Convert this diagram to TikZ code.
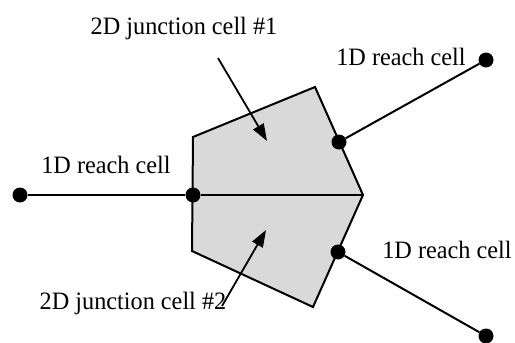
\documentclass[tikz,border=0pt]{standalone}
\usepackage{fontspec}
\setmainfont{Liberation Serif}
\usetikzlibrary{positioning, arrows.meta}
\tikzstyle{dot}=[circle, fill=black, inner sep=0pt, minimum size=15pt]
\tikzstyle{lbl}=[inner sep=0pt, xscale=0.97, font=\fontsize{25}{28}\selectfont]
\tikzstyle{edge}=[line width=2pt]
\tikzstyle{ar}=[-{Triangle[length=17pt, width=12pt]}, line width=1.8pt]

\begin{document}
\begin{tikzpicture}[x=1pt, y=-1pt]
    \useasboundingbox (0,0) rectangle (515,343);
    % junction corners
    \coordinate (lt) at (193,137);
    \coordinate (tp) at (315,87);
    \coordinate (rt) at (363,195);
    \coordinate (bt) at (313,307);
    \coordinate (lb) at (192,251);
    \fill[black!15] (lt)--(tp)--(rt)--(bt)--(lb)--cycle;
    \draw[edge] (lt)--(tp)--(rt)--(bt)--(lb)--cycle;
    % reach cells
    \node[dot] (w) at (20,195) {};
    \node[dot] (wj) at (193,195) {};
    \node[dot] (ne) at (486,60) {};
    \node[dot] (nej) at (339,142) {};
    \node[dot] (se) at (486,336) {};
    \node[dot] (sej) at (338,252) {};
    \draw[edge] (w)--(wj)--(rt);
    \draw[edge] (nej)--(ne);
    \draw[edge] (sej)--(se);
    % labels
    \node[lbl] (j1) at (184,28) {2D junction cell \#1};
    \node[lbl] (j2) at (133,303) {2D junction cell \#2};
    \node[lbl] (rw) at (106,165) {1D reach cell};
    \node[lbl] (rne) at (401,57) {1D reach cell};
    \node[lbl] (rse) at (447,250) {1D reach cell};
    \coordinate (a1) at (218,58);
    \coordinate (b1) at (267,141);
    \coordinate (a2) at (222,306);
    \coordinate (b2) at (266,230);
    \draw[ar] (a1)--(b1);
    \draw[ar] (a2)--(b2);
  \end{tikzpicture}
\end{document}
